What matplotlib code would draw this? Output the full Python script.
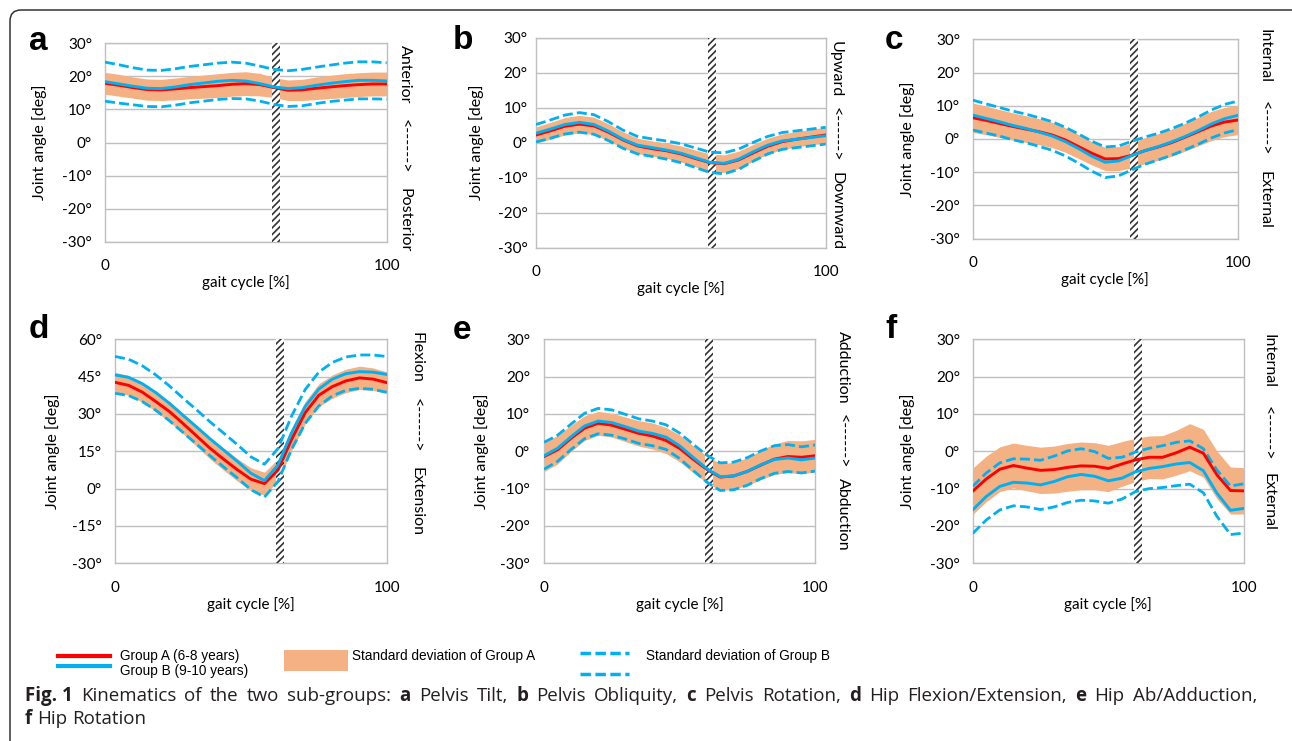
import numpy as np
import matplotlib
matplotlib.use("Agg")
import matplotlib.pyplot as plt
from matplotlib.lines import Line2D
from matplotlib.patches import Rectangle, FancyBboxPatch
from matplotlib.transforms import IdentityTransform

W, H = 1292, 741

gait = [0, 5, 10, 15, 20, 25, 30, 35, 40, 45, 50, 55, 60, 65, 70, 75, 80, 85, 90, 95, 100]

# a: pelvis tilt
tilt_A = [17.9, 17.3, 16.6, 16.0, 15.9, 16.2, 16.6, 16.9, 17.2, 17.6, 17.8, 17.5, 16.6, 15.8, 15.9, 16.4, 16.8, 17.2, 17.5, 17.7, 17.7]
tilt_A_sd = [3.3, 3.3, 3.2, 3.2, 3.2, 3.3, 3.4, 3.5, 3.6, 3.6, 3.6, 3.4, 3.0, 3.1, 3.2, 3.4, 3.5, 3.6, 3.6, 3.6, 3.6]
tilt_B = [18.4, 17.7, 17.0, 16.4, 16.3, 16.8, 17.5, 18.0, 18.5, 18.8, 18.6, 17.8, 16.8, 16.3, 16.6, 17.3, 17.9, 18.4, 18.8, 18.8, 18.6]
tilt_B_sd = [5.9, 5.8, 5.6, 5.5, 5.5, 5.5, 5.5, 5.5, 5.5, 5.5, 5.4, 5.3, 5.3, 5.4, 5.5, 5.5, 5.5, 5.6, 5.6, 5.6, 5.5]

# b: pelvis obliquity
obl_A = [2.2, 3.4, 4.7, 5.3, 4.8, 3.0, 0.8, -0.9, -1.7, -2.3, -3.2, -4.5, -5.7, -6.0, -4.9, -2.9, -1.0, 0.3, 1.0, 1.6, 2.2]
obl_A_sd = [2.3, 2.4, 2.5, 2.5, 2.5, 2.4, 2.3, 2.2, 2.2, 2.2, 2.3, 2.4, 2.5, 2.5, 2.5, 2.4, 2.3, 2.2, 2.2, 2.2, 2.3]
obl_B = [2.7, 3.9, 5.2, 5.8, 5.2, 3.3, 1.0, -0.7, -1.4, -2.1, -3.0, -4.3, -5.6, -5.9, -4.7, -2.6, -0.7, 0.5, 1.0, 1.5, 2.0]
obl_B_sd = [2.5, 2.6, 2.7, 2.8, 2.8, 2.7, 2.6, 2.5, 2.5, 2.6, 2.7, 2.8, 2.9, 3.0, 2.9, 2.7, 2.5, 2.4, 2.4, 2.4, 2.4]

# c: pelvis rotation
prot_A = [6.4, 5.6, 4.7, 3.8, 3.0, 2.2, 1.2, -0.3, -2.3, -4.3, -6.0, -5.9, -4.9, -3.5, -2.4, -1.1, 0.5, 2.2, 3.9, 5.1, 5.7]
prot_A_sd = [4.4, 4.3, 4.2, 4.1, 4.0, 3.9, 3.8, 3.7, 3.6, 3.5, 3.5, 3.6, 3.8, 3.9, 4.0, 4.1, 4.2, 4.3, 4.4, 4.4, 4.4]
prot_B = [7.2, 6.2, 5.2, 4.1, 3.2, 2.1, 0.9, -0.8, -2.9, -5.2, -7.0, -6.6, -5.0, -3.5, -2.3, -0.9, 0.7, 2.5, 4.5, 6.1, 7.1]
prot_B_sd = [4.5, 4.4, 4.3, 4.3, 4.3, 4.3, 4.3, 4.3, 4.4, 4.5, 4.6, 4.5, 4.3, 4.1, 4.0, 4.0, 4.0, 4.1, 4.2, 4.3, 4.3]

# d: hip flexion/extension
flex_A = [42.7, 41.5, 38.8, 35.0, 31.0, 26.2, 21.2, 16.2, 11.8, 7.6, 3.8, 2.0, 7.5, 19.8, 30.5, 37.5, 41.0, 43.3, 44.5, 44.0, 42.6]
flex_A_sd = [4.0, 4.0, 4.0, 4.0, 4.1, 4.1, 4.2, 4.3, 4.4, 4.5, 4.6, 4.6, 4.5, 4.5, 4.5, 4.6, 4.7, 4.7, 4.7, 4.5, 4.3]
flex_B = [45.7, 44.7, 42.2, 38.6, 34.3, 29.5, 24.8, 20.0, 15.5, 11.0, 6.2, 3.2, 9.5, 22.5, 33.0, 40.0, 44.0, 46.2, 47.0, 46.8, 45.9]
flex_B_sd = [7.4, 7.3, 7.2, 7.1, 7.0, 6.9, 6.9, 6.8, 6.8, 6.7, 6.6, 6.6, 6.6, 6.7, 6.8, 6.8, 6.7, 6.7, 6.7, 6.9, 7.2]

# e: hip ab/adduction
abd_A = [-1.4, 0.4, 3.5, 6.2, 7.5, 7.0, 5.9, 4.8, 4.1, 2.9, 0.8, -2.1, -4.8, -6.9, -6.6, -5.4, -3.7, -2.1, -1.4, -1.6, -1.2]
abd_A_sd = [4.0, 3.8, 3.5, 3.3, 3.2, 3.2, 3.3, 3.4, 3.5, 3.5, 3.6, 3.6, 3.6, 3.6, 3.6, 3.7, 3.9, 4.1, 4.3, 4.4, 4.4]
abd_B = [-1.2, 0.8, 3.9, 6.8, 8.1, 7.7, 6.6, 5.4, 4.8, 3.8, 1.5, -1.6, -4.6, -6.8, -6.6, -5.4, -3.6, -2.2, -1.8, -2.3, -1.8]
abd_B_sd = [3.6, 3.5, 3.4, 3.4, 3.4, 3.4, 3.3, 3.3, 3.3, 3.3, 3.4, 3.5, 3.6, 3.7, 3.7, 3.7, 3.7, 3.7, 3.6, 3.5, 3.5]

# f: hip rotation
hrot_A = [-10.7, -7.4, -4.8, -3.8, -4.5, -5.1, -4.9, -4.3, -3.9, -4.0, -4.6, -3.4, -2.3, -1.6, -1.6, -0.4, 1.1, -0.5, -6.3, -10.5, -10.6]
hrot_A_sd = [6.2, 6.1, 6.0, 6.0, 6.1, 6.2, 6.3, 6.4, 6.4, 6.3, 6.2, 6.0, 5.8, 5.7, 5.8, 6.0, 6.3, 6.4, 6.4, 6.3, 6.2]
hrot_B = [-15.7, -12.1, -9.4, -8.3, -8.5, -9.0, -8.1, -6.8, -6.2, -6.7, -7.9, -7.2, -5.5, -4.6, -4.1, -3.4, -3.0, -5.2, -11.2, -15.8, -15.3]
hrot_B_sd = [6.3, 6.3, 6.3, 6.3, 6.4, 6.6, 6.8, 6.9, 6.9, 6.6, 6.0, 5.6, 5.3, 5.4, 5.6, 5.8, 5.8, 5.9, 6.2, 6.5, 6.6]

ticks_30 = [-30, -20, -10, 0, 10, 20, 30]
ticks_60 = [-30, -15, 0, 15, 30, 45, 60]
toe_off = (59.3, 62.3)

RED = "#ff0000"
BLUE = "#00b0f0"
ORANGE = "#f4b183"
GRID = "#bfbfbf"

plt.rcParams["font.family"] = ["Lato", "DejaVu Sans"]
plt.rcParams["hatch.linewidth"] = 1.2

fig = plt.figure(figsize=(W / 100, H / 100), dpi=100)


def fx(px):
    return px / W


def fy(py):
    return 1 - py / H


def panel(box, letter, letter_xy, yticks, mA, sA, mB, sB, words, side, ylab_x, ypad):
    left, top, right, bottom = box
    ax = fig.add_axes([fx(left), fy(bottom), (right - left) / W, (bottom - top) / H])
    x = np.array(gait)
    mA, sA, mB, sB = map(np.array, (mA, sA, mB, sB))
    ax.fill_between(x, mA - sA, mA + sA, color=ORANGE, lw=0, zorder=2)
    ax.axvspan(*toe_off, facecolor="white", edgecolor="#333333", hatch="/////", lw=0, zorder=3)
    dash = (0, (3.6, 1.5))
    ax.plot(x, mB + sB, color=BLUE, lw=2.0, ls=dash, zorder=4)
    ax.plot(x, mB - sB, color=BLUE, lw=2.0, ls=dash, zorder=4)
    ax.plot(x, mA, color=RED, lw=2.1, zorder=5)
    ax.plot(x, mB, color=BLUE, lw=2.1, zorder=6)

    ax.set_xlim(0, 100)
    ax.set_ylim(yticks[0], yticks[-1])
    ax.set_xticks([0, 100])
    ax.set_yticks(yticks)
    ax.set_yticklabels([f"{t}°" for t in yticks])
    ax.grid(axis="y", color=GRID, lw=1.0, zorder=0)
    for s in ax.spines.values():
        s.set_color(GRID)
        s.set_linewidth(1.0)
    ax.tick_params(axis="both", length=0, labelsize=11, colors="black")
    ax.tick_params(axis="x", pad=12.5)
    ax.tick_params(axis="y", pad=ypad)

    ax.set_xlabel("gait cycle [%]", fontsize=11)
    ax.xaxis.label.set_va("center")
    ax.xaxis.set_label_coords(0.5, -41 / (bottom - top))
    ax.set_ylabel("Joint angle [deg]", fontsize=11.5)
    ax.yaxis.label.set_va("center")
    ax.yaxis.set_label_coords((ylab_x - left) / (right - left), 0.5)

    fig.text(fx(letter_xy[0]), fy(letter_xy[1]), letter, family="Liberation Sans",
             fontweight="bold", fontsize=24, ha="left", va="baseline")

    sx, s_top, s_mid, s_bot = side
    fig.text(fx(sx), fy(s_top), words[0], rotation=-90, fontsize=11.5, ha="center", va="top")
    fig.text(fx(sx), fy(s_mid), "<------>", rotation=-90, fontsize=11.5, ha="center", va="center")
    fig.text(fx(sx), fy(s_bot), words[1], rotation=-90, fontsize=11.5, ha="center", va="bottom")
    return ax


panel((105, 43.3, 386.7, 241.7), "a", (28.5, 49.5), ticks_30, tilt_A, tilt_A_sd, tilt_B, tilt_B_sd,
      ("Anterior", "Posterior"), (405, 45, 146, 252), 40, 9.4)
panel((536, 37.7, 825.7, 247.7), "b", (453, 49), ticks_30, obl_A, obl_A_sd, obl_B, obl_B_sd,
      ("Upward", "Downward"), (836, 41, 134, 250), 477, 6)
panel((972.7, 39.3, 1237.7, 238.7), "c", (885, 49), ticks_30, prot_A, prot_A_sd, prot_B, prot_B_sd,
      ("Internal", "External"), (1265, 29, 128, 229), 908, 9.2)
panel((115, 339.3, 386.7, 563.3), "d", (28.5, 338), ticks_60, flex_A, flex_A_sd, flex_B, flex_B_sd,
      ("Flexion", "Extension"), (417, 332, 425, 536), 53, 9.6)
panel((544, 339.3, 815, 563.3), "e", (453, 339), ticks_30, abd_A, abd_A_sd, abd_B, abd_B_sd,
      ("Adduction", "Abduction"), (843, 331, 441, 551), 482, 10)
panel((972.7, 339.3, 1244, 563.3), "f", (885, 338), ticks_30, hrot_A, hrot_A_sd, hrot_B, hrot_B_sd,
      ("Internal", "External"), (1268, 334, 433, 531), 908, 9.2)

# legend
leg_font = dict(family="Liberation Sans", fontsize=9.8, va="center", ha="left")
fig.add_artist(Line2D([fx(58), fx(110)], [fy(656.3)] * 2, color=RED, lw=3, transform=fig.transFigure))
fig.add_artist(Line2D([fx(58), fx(110)], [fy(665.7)] * 2, color=BLUE, lw=3, transform=fig.transFigure))
fig.text(fx(120), fy(656), "Group A (6-8 years)", **leg_font)
fig.text(fx(120), fy(671.5), "Group B (9-10 years)", **leg_font)
fig.add_artist(Rectangle((fx(284.3), fy(670.7)), (347.7 - 284.3) / W, 21 / H, color=ORANGE,
                         lw=0, transform=fig.transFigure))
fig.text(fx(351.7), fy(656), "Standard deviation of Group A", **leg_font)
for yy in (652.5, 673.5):
    fig.add_artist(Line2D([fx(580), fx(629)], [fy(yy)] * 2, color=BLUE, lw=2.5, ls=(0, (3, 1.3)),
                          transform=fig.transFigure))
fig.text(fx(646), fy(656), "Standard deviation of Group B", **leg_font)

# caption, justified on the first line
CAP = dict(family="Open Sans", fontsize=13.5, va="baseline", ha="left", color="#231f20")
line1 = [("Fig. 1", True), ("Kinematics", False), ("of", False), ("the", False), ("two", False),
         ("sub-groups:", False), ("a", True), ("Pelvis", False), ("Tilt,", False), ("b", True),
         ("Pelvis", False), ("Obliquity,", False), ("c", True), ("Pelvis", False), ("Rotation,", False),
         ("d", True), ("Hip", False), ("Flexion/Extension,", False), ("e", True), ("Hip", False),
         ("Ab/Adduction,", False)]
line2 = [("f", True), ("Hip", False), ("Rotation", False)]

renderer = fig.canvas.get_renderer()


def text_width(s):
    t = fig.text(0, 0, s, **CAP)
    w = t.get_window_extent(renderer).width
    t.remove()
    return w


def caption_line(words, base, x0, x1=None):
    texts = [fig.text(0, fy(base), w, fontweight="bold" if b else "normal", **CAP) for w, b in words]
    widths = [t.get_window_extent(renderer).width for t in texts]
    if x1 is None:
        gap = text_width("a a") - text_width("aa")
    else:
        gap = (x1 - x0 - sum(widths)) / (len(words) - 1)
    x = x0
    for t, w in zip(texts, widths):
        t.set_x(fx(x))
        x += w + gap


caption_line(line1, 701, 25, 1257)
caption_line(line2, 724, 25)

# frame round the figure (top and left edges)
fig.add_artist(FancyBboxPatch((10, -40), W + 40, H - 10 + 40, boxstyle="round,pad=0,rounding_size=11",
                              transform=IdentityTransform(), fill=False, edgecolor="#333333", lw=1.1))

fig.savefig("out.png", dpi=100)
